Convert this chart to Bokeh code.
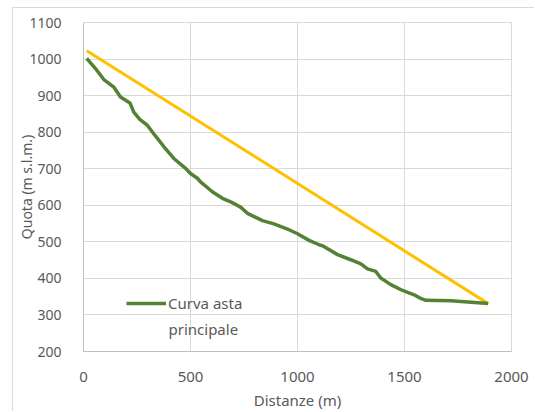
from bokeh.plotting import figure
from bokeh.models import Legend, LegendItem, Label, Range1d, FixedTicker
from bokeh.embed import file_html
from bokeh.resources import INLINE

# Data
dist_asta = [15, 56, 95, 142, 173, 217, 235, 263, 298, 337, 376, 422, 477, 500, 532,
             547, 602, 649, 696, 734, 766, 836, 890, 953, 1000, 1054, 1101, 1117, 1187,
             1249, 1296, 1327, 1366, 1389, 1436, 1491, 1545, 1573, 1600, 1717, 1891]
quota_asta = [1002, 974, 944, 923, 896, 880, 855, 835, 819, 789, 760, 728, 701, 687, 674,
              664, 637, 619, 607, 595, 578, 558, 549, 535, 522, 504, 492, 489, 465,
              451, 440, 426, 419, 401, 383, 367, 355, 346, 340, 339, 331]
dist_retta = [15, 1891]
quota_retta = [1023, 331]
x_ticks = [0, 500, 1000, 1500, 2000]
y_ticks = [200, 300, 400, 500, 600, 700, 800, 900, 1000, 1100]

FONT = "Noto Sans"
GREY = "#595959"

p = figure(width=522, height=404, output_backend="svg", toolbar_location=None,
           x_range=Range1d(0, 2000), y_range=Range1d(200, 1100),
           min_border_left=70, min_border_right=24, min_border_top=14, min_border_bottom=60)
p.margin = (7, 0, 0, 12)
p.styles = {"border-top": "1px solid #d9d9d9", "border-left": "1px solid #d9d9d9"}
p.outline_line_color = "#d9d9d9"

r_retta = p.line(dist_retta, quota_retta, line_color="#FFC000", line_width=3)
r_asta = p.line(dist_asta, quota_asta, line_color="#548235", line_width=3.5)

for ax in (p.xaxis[0], p.yaxis[0]):
    ax.major_tick_line_color = None
    ax.minor_tick_line_color = None
    ax.axis_line_color = "#bfbfbf"
    ax.major_label_text_font = FONT
    ax.major_label_text_color = GREY
    ax.axis_label_text_font = FONT
    ax.axis_label_text_color = GREY
    ax.axis_label_text_font_style = "normal"

p.xaxis.major_label_text_font_size = "15px"
p.xaxis.axis_label_text_font_size = "15px"
p.yaxis.major_label_text_font_size = "14px"
p.yaxis.axis_label_text_font_size = "14px"
p.xaxis.major_label_standoff = 14
p.yaxis.major_label_standoff = 16
p.xaxis.ticker = FixedTicker(ticks=x_ticks)
p.yaxis.ticker = FixedTicker(ticks=y_ticks)
p.xaxis.axis_label = "Distanze (m)"
p.yaxis.axis_label = "Quota (m s.l.m.)"
p.xaxis.axis_label_standoff = 5
p.yaxis.axis_label_standoff = -10

p.xgrid.grid_line_color = "#d9d9d9"
p.ygrid.grid_line_color = "#d9d9d9"

legend = Legend(items=[LegendItem(label="Curva asta", renderers=[r_asta])],
                location=(43, 38), padding=0, margin=0, glyph_width=40, glyph_height=16,
                label_standoff=2, background_fill_alpha=0, border_line_color=None,
                label_text_font=FONT, label_text_font_size="15px", label_text_color=GREY)
p.add_layout(legend, "center")

p.add_layout(Label(x=85, y=13, x_units="screen", y_units="screen", text="principale",
                   text_font=FONT, text_font_size="15px", text_color=GREY))

open("out.html", "w").write(file_html(p, INLINE))
